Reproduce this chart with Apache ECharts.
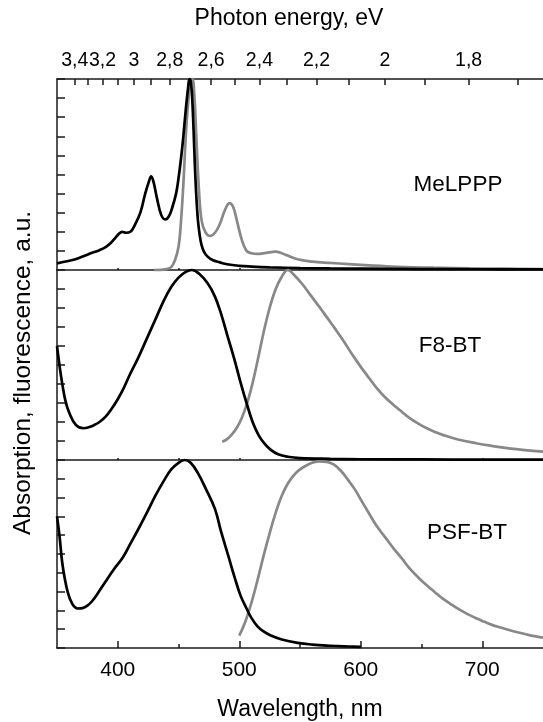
<!DOCTYPE html>
<html>
<head>
<meta charset="utf-8">
<script src="https://cdn.jsdelivr.net/npm/echarts@6/dist/echarts.min.js"></script>
<style>
html,body{margin:0;padding:0;background:#fff;}
#chart{width:543px;height:722px;}
</style>
</head>
<body>
<div id="chart"></div>
<script>
// ---------- DATA ----------
// Photon energy axis (top)
var energyTicks = [3.4,3.3,3.2,3.1,3.0,2.9,2.8,2.7,2.6,2.5,2.4,2.3,2.2,2.1,2.0,1.9,1.8,1.7];
var energyLabelValues = [3.4,3.2,3.0,2.8,2.6,2.4,2.2,2.0,1.8];
var energyLabels = ['3,4','3,2','3','2,8','2,6','2,4','2,2','2','1,8'];
// Wavelength axis (bottom)
var wlMajorTicks = [400,500,600,700];
var wlMinorTicks = [450,550,650];
var panelNames = ['MeLPPP','F8-BT','PSF-BT'];

// MeLPPP absorption (black)
var melAbsWl  = [350,356,362.8,370,379,385,390,394,398.2,401,403.6,406.8,410.4,414.4,418.6,422.6,425.5,427.5,429.5,432,435.7,439,442,445,448,450,452,454,456,458,459,460,461,462,463,464,465,466,467.5,469,471,474,478,484,490,500,510,525,550,575,600,650,700,750];
var melAbsVal = [0.035,0.043,0.052,0.068,0.09,0.104,0.12,0.14,0.17,0.19,0.2,0.195,0.2,0.24,0.3,0.4,0.46,0.49,0.46,0.384,0.29,0.265,0.28,0.33,0.40,0.48,0.58,0.70,0.84,0.96,1.0,0.99,0.93,0.8,0.63,0.47,0.35,0.26,0.18,0.13,0.095,0.07,0.052,0.04,0.03,0.022,0.018,0.014,0.01,0.008,0.007,0.005,0.004,0.003];
// MeLPPP fluorescence (grey)
var melFlWl  = [430,440,444,447,450,452,454,456,458,460,461.5,463,465,467,469,472,476,480,484,488,492,495,498,502,506,510,515,522,530,538,548,560,575,590,610,630,660,690,720,750];
var melFlVal = [0.0,0.005,0.015,0.05,0.12,0.25,0.45,0.7,0.88,0.98,1.0,0.92,0.65,0.4,0.26,0.2,0.178,0.195,0.24,0.31,0.35,0.33,0.26,0.16,0.1,0.088,0.084,0.09,0.096,0.08,0.056,0.044,0.037,0.031,0.023,0.017,0.012,0.009,0.007,0.005];

// F8-BT absorption (black)
var f8AbsWl  = [350,352,354.6,357,360,365.5,372,376,380,385,390,395,400,405,410,417,424,431,438,444,450,456,461,467,474,480,485,490,496,501,506,511,516,521,526,532,540,550,575,600,650,700,750];
var f8AbsVal = [0.6,0.5,0.39,0.31,0.25,0.185,0.167,0.172,0.182,0.2,0.228,0.27,0.32,0.38,0.45,0.54,0.64,0.74,0.84,0.91,0.96,0.99,1.0,0.98,0.93,0.86,0.77,0.66,0.53,0.41,0.3,0.2,0.13,0.085,0.053,0.03,0.017,0.01,0.006,0.004,0.003,0.002,0.002];
// F8-BT fluorescence (grey)
var f8FlWl  = [486,490,494,498,502,506,510,515,520,525,530,535,540,545,552,559,566,572,579,586,593,600,607,613,620,627,634,640,647,654,661,668,680,695,708,722,735,750];
var f8FlVal = [0.096,0.11,0.135,0.17,0.22,0.29,0.38,0.52,0.67,0.8,0.9,0.965,1.0,0.975,0.925,0.865,0.805,0.752,0.69,0.625,0.555,0.49,0.43,0.38,0.33,0.29,0.253,0.222,0.193,0.168,0.148,0.131,0.108,0.088,0.074,0.061,0.052,0.044];

// PSF-BT absorption (black)
var psfAbsWl  = [350,352,354.6,358.7,362.8,367,371,375,379,384,390,397,404,410,417,424,431,438,444,450,455,460,466,473,480,485,491,496,501,506,510,515,520,526,535,548,560,575,590,600];
var psfAbsVal = [0.7,0.6,0.44,0.3,0.232,0.21,0.212,0.225,0.25,0.295,0.354,0.42,0.48,0.55,0.633,0.72,0.81,0.89,0.95,0.985,1.0,0.985,0.93,0.84,0.74,0.62,0.49,0.38,0.28,0.21,0.16,0.115,0.088,0.066,0.045,0.027,0.018,0.012,0.008,0.006];
// PSF-BT fluorescence (grey)
var psfFlWl  = [500,505,510,515,520,525,530,535,540,545,550,555,560,566,572,578,584,590,595,600,606,613,620,627,634,640,647,654,661,667,674,681,688,695,702,708,715,722,729,736,743,750];
var psfFlVal = [0.066,0.14,0.24,0.36,0.49,0.61,0.72,0.81,0.875,0.92,0.95,0.97,0.985,0.993,0.99,0.975,0.94,0.89,0.845,0.79,0.725,0.65,0.59,0.53,0.475,0.425,0.378,0.335,0.297,0.265,0.234,0.205,0.18,0.158,0.139,0.123,0.109,0.096,0.084,0.073,0.063,0.055];

// ---------- BUILD ----------
function zip(a,b){var r=[];for(var i=0;i<a.length;i++){r.push([a[i],b[i]]);}return r;}
var HC = 1239.84;
var FONT = 'Liberation Sans, Arial, sans-serif';
var AXC = '#1a1a1a';

var grids = [
  {left:57, right:-5, top:79, height:191},
  {left:57, right:-5, top:270, height:190},
  {left:57, right:-5, top:460, height:191}
];

function divider(gi){
  return {type:'value', gridIndex:gi, position:'bottom', min:350, max:750,
    axisLine:{show:true, onZero:false, lineStyle:{color:AXC, width:1.5}},
    axisTick:{show:true, inside:true, length:2, customValues:wlMajorTicks.concat(wlMinorTicks), lineStyle:{color:AXC,width:1.5}},
    axisLabel:{show:false}, splitLine:{show:false}};
}

var xAxes = [
  {type:'value', gridIndex:0, position:'top', min:350, max:750,
   name:'Photon energy, eV', nameLocation:'middle', nameGap:49,
   nameTextStyle:{fontFamily:FONT, fontSize:23, color:'#000', padding:[0,22,0,0]},
   axisLine:{show:true, onZero:false, lineStyle:{color:AXC, width:1.5}},
   axisTick:{show:true, inside:true, length:6, customValues:energyTicks.map(function(e){return HC/e;}), lineStyle:{color:AXC,width:1.5}},
   axisLabel:{show:true, margin:8, fontFamily:FONT, fontSize:19.5, color:'#000',
     customValues:energyLabelValues.map(function(e){return HC/e;}),
     formatter:function(v){var e=HC/v;for(var i=0;i<energyLabelValues.length;i++){if(Math.abs(e-energyLabelValues[i])<0.01)return energyLabels[i];}return '';}},
   splitLine:{show:false}},
  divider(0),
  divider(1),
  {type:'value', gridIndex:2, position:'bottom', min:350, max:750,
   name:'Wavelength, nm', nameLocation:'middle', nameGap:50,
   nameTextStyle:{fontFamily:FONT, fontSize:23, color:'#000'},
   axisLine:{show:true, onZero:false, lineStyle:{color:AXC, width:1.5}},
   axisTick:{show:true, inside:true, length:7, customValues:wlMajorTicks, lineStyle:{color:AXC,width:1.5}},
   axisLabel:{show:true, margin:12, fontFamily:FONT, fontSize:21, color:'#000', customValues:wlMajorTicks},
   splitLine:{show:false}},
  {type:'value', gridIndex:2, position:'bottom', min:350, max:750,
   axisLine:{show:false},
   axisTick:{show:true, inside:true, length:4, customValues:wlMinorTicks, lineStyle:{color:AXC,width:1.5}},
   axisLabel:{show:false}, splitLine:{show:false}}
];

var yAxes = [0,1,2].map(function(gi){
  return {type:'value', gridIndex:gi, min:0, max:1, interval:0.1,
    axisLine:{show:true, onZero:false, lineStyle:{color:AXC, width:1.5}},
    axisTick:{show:true, inside:true, length:8, lineStyle:{color:AXC,width:1.5}},
    axisLabel:{show:false}, splitLine:{show:false}};
});

function line(xi, yi, wl, val, color){
  return {type:'line', xAxisIndex:xi, yAxisIndex:yi, data:zip(wl,val),
    showSymbol:false, smooth:0.4, clip:false, silent:true,
    lineStyle:{color:color, width:2.7}, itemStyle:{color:color}};
}

var series = [
  line(1,0,melFlWl,melFlVal,'#888888'),
  line(1,0,melAbsWl,melAbsVal,'#000000'),
  line(2,1,f8FlWl,f8FlVal,'#888888'),
  line(2,1,f8AbsWl,f8AbsVal,'#000000'),
  line(3,2,psfFlWl,psfFlVal,'#888888'),
  line(3,2,psfAbsWl,psfAbsVal,'#000000')
];

var labelPos = [[458,185],[450,346],[467,533]];
var graphics = panelNames.map(function(n,i){
  return {type:'text', x:labelPos[i][0], y:labelPos[i][1], z:100,
    style:{text:n, fontFamily:FONT, fontSize:22.5, fill:'#000', textAlign:'center', textVerticalAlign:'middle'}};
});
graphics.push({type:'text', x:23, y:373, rotation:Math.PI/2, z:100,
  style:{text:'Absorption, fluorescence, a.u.', fontFamily:FONT, fontSize:24.5, fill:'#000', textAlign:'center', textVerticalAlign:'middle'}});

var chart = echarts.init(document.getElementById('chart'), null, {renderer:'canvas'});
chart.setOption({
  animation:false,
  backgroundColor:'#fff',
  grid:grids,
  xAxis:xAxes,
  yAxis:yAxes,
  series:series,
  graphic:graphics
});
</script>
</body>
</html>
